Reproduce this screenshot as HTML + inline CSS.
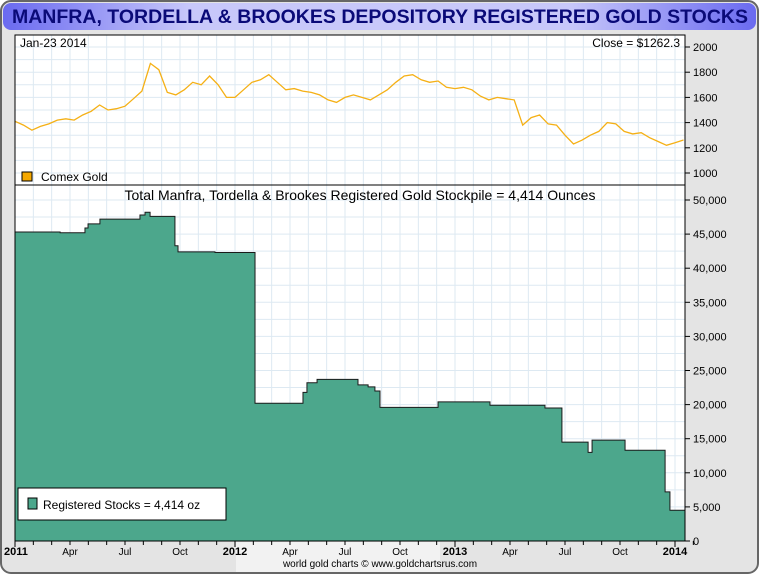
<!DOCTYPE html>
<html><head><meta charset="utf-8"><style>
body{margin:0;width:760px;height:575px;overflow:hidden;background:#fff;font-family:"Liberation Sans",sans-serif}
</style></head><body>
<svg id="c" width="760" height="575" xmlns="http://www.w3.org/2000/svg" font-family="Liberation Sans, sans-serif">
<defs>
<linearGradient id="tg" x1="0" x2="1" y1="0" y2="0">
<stop offset="0" stop-color="#6a6af0"/><stop offset="0.25" stop-color="#c8c8fa"/><stop offset="0.75" stop-color="#c8c8fa"/><stop offset="1" stop-color="#6a6af0"/></linearGradient>
</defs>
<rect x="1" y="1" width="757" height="572" rx="10" fill="#e4e4e4" stroke="#666" stroke-width="2"/>
<rect x="236" y="542" width="204" height="30" fill="#f2f2f2"/>
<rect x="3" y="3" width="753" height="27" rx="8" fill="url(#tg)"/>
<text x="380" y="23" text-anchor="middle" font-size="19.5" font-weight="bold" fill="#0a0a78">MANFRA, TORDELLA &amp; BROOKES DEPOSITORY REGISTERED GOLD STOCKS</text>
<rect x="15" y="35" width="670" height="506" fill="#fff"/>
<g id="grid"></g>
<g id="marks"></g>
<rect x="15" y="35" width="670" height="150" fill="none" stroke="#000"/>
<rect x="15" y="185" width="670" height="356" fill="none" stroke="#000"/>
<text x="20" y="47" font-size="12">Jan-23  2014</text>
<text x="680" y="47" font-size="12" text-anchor="end">Close = $1262.3</text>
<rect x="22" y="172" width="10" height="9" fill="#f5a800" stroke="#000"/>
<text x="41" y="181" font-size="12">Comex Gold</text>
<text x="360" y="200" font-size="14" text-anchor="middle">Total Manfra, Tordella &amp; Brookes Registered Gold Stockpile = 4,414 Ounces</text>
<rect x="18" y="488" width="208" height="32" fill="#fff" stroke="#000"/>
<rect x="28" y="498" width="9" height="11" fill="#4ca78c" stroke="#000"/>
<text x="43" y="509" font-size="12">Registered Stocks = 4,414 oz</text>
<g id="axes"></g>
<text x="380" y="567" font-size="10" text-anchor="middle">world gold charts © www.goldchartsrus.com</text>
</svg>
<script>
const goldPrices=[1410,1380,1340,1370,1390,1420,1430,1420,1460,1490,1540,1500,1510,1530,1590,1650,1870,1820,1640,1620,1660,1720,1700,1770,1700,1600,
1600,1660,1720,1740,1780,1720,1660,1670,1650,1640,1620,1580,1560,1600,1620,1600,1580,1620,1660,1720,1770,1780,1740,1720,1730,1680,
1670,1680,1660,1610,1580,1600,1590,1580,1380,1440,1460,1390,1380,1300,1230,1260,1300,1330,1400,1390,1330,1310,1320,1280,1250,1220,1240,1262];
const stockDates=[2011.0,2011.205,2011.318,2011.332,2011.386,2011.568,2011.591,2011.614,2011.727,2011.741,2011.909,2012.091,2012.309,2012.327,2012.373,2012.559,2012.605,2012.636,2012.659,2012.923,2013.159,2013.409,2013.486,2013.605,2013.623,2013.773,2013.955,2013.977];
const stockValues=[45300,45200,45900,46500,47200,47800,48200,47600,43300,42400,42300,20200,21800,23200,23700,22900,22600,22000,19600,20400,19900,19500,14500,13000,14800,13300,7200,4500];
const goldTicks=[1000,1200,1400,1600,1800,2000];
const stockTicks=[0,5000,10000,15000,20000,25000,30000,35000,40000,45000,50000];
const monthLabels=["2011","Apr","Jul","Oct","2012","Apr","Jul","Oct","2013","Apr","Jul","Oct","2014"];
const NS="http://www.w3.org/2000/svg";
const X=t=>15+220*(t-2011);
const YG=v=>173-(v-1000)*0.126;
const YS=v=>541-v*341/50000;
function mk(tag,at,par){const e=document.createElementNS(NS,tag);for(const k in at)e.setAttribute(k,at[k]);document.getElementById(par).appendChild(e);return e;}
for(let m=1;m<37;m++){const x=X(2011+m/12);
const g=mk('line',{x1:x,x2:x,y1:35,y2:541,stroke:'#dde9f2','stroke-width':1},'grid');

}
for(let v=1000;v<=2100;v+=100){const y=YG(v);if(y<36)continue;
const g=mk('line',{x1:15,x2:685,y1:y,y2:y,stroke:'#dde9f2'},'grid');

}
for(let v=2500;v<=52500;v+=2500){const y=YS(v);if(y<186)continue;
const g=mk('line',{x1:15,x2:685,y1:y,y2:y,stroke:'#dde9f2'},'grid');

}
let pts=goldPrices.map((v,i)=>X(2011+i/26).toFixed(1)+','+YG(v).toFixed(1)).join(' ');
const gl=mk('polyline',{points:pts,fill:'none',stroke:'#f5b015','stroke-width':1.3},'marks');


let d='M'+X(2011)+','+YS(0);
for(let i=0;i<stockValues.length;i++){const x0=X(stockDates[i]);const x1=i+1<stockDates.length?X(stockDates[i+1]):685;
d+=' L'+x0+','+YS(stockValues[i])+' L'+Math.min(x1,685)+','+YS(stockValues[i]);}
d+=' L685,'+YS(0)+' Z';
const ar=mk('path',{d:d,fill:'#4ca78c',stroke:'#1a1a1a','stroke-width':1},'marks');


goldTicks.forEach(v=>{const y=YG(v);
const l=mk('line',{x1:685,x2:690,y1:y,y2:y,stroke:'#000'},'axes');


const t=mk('text',{x:693,y:y+4,'font-size':11},'axes');t.textContent=v;

});
stockTicks.forEach(v=>{const y=YS(v);
const l=mk('line',{x1:685,x2:690,y1:y,y2:y,stroke:'#000'},'axes');


const t=mk('text',{x:693,y:y+4,'font-size':11},'axes');t.textContent=v.toLocaleString('en-US');

});
for(let m=0;m<=37;m++){const x=X(2011+m/12);
const l=mk('line',{x1:x,x2:x,y1:541,y2:m%12==0?547:545,stroke:'#000'},'axes');

}
monthLabels.forEach((s,i)=>{const x=X(2011+i*0.25);const yr=i%4==0;
const t=mk('text',{x:x,y:555,'font-size':yr?11:10,'font-weight':yr?'bold':'normal','text-anchor':'middle'},'axes');
if(i==0){t.setAttribute('x',4);t.setAttribute('text-anchor','start');}
t.textContent=s;

});
</script>
</body></html>
